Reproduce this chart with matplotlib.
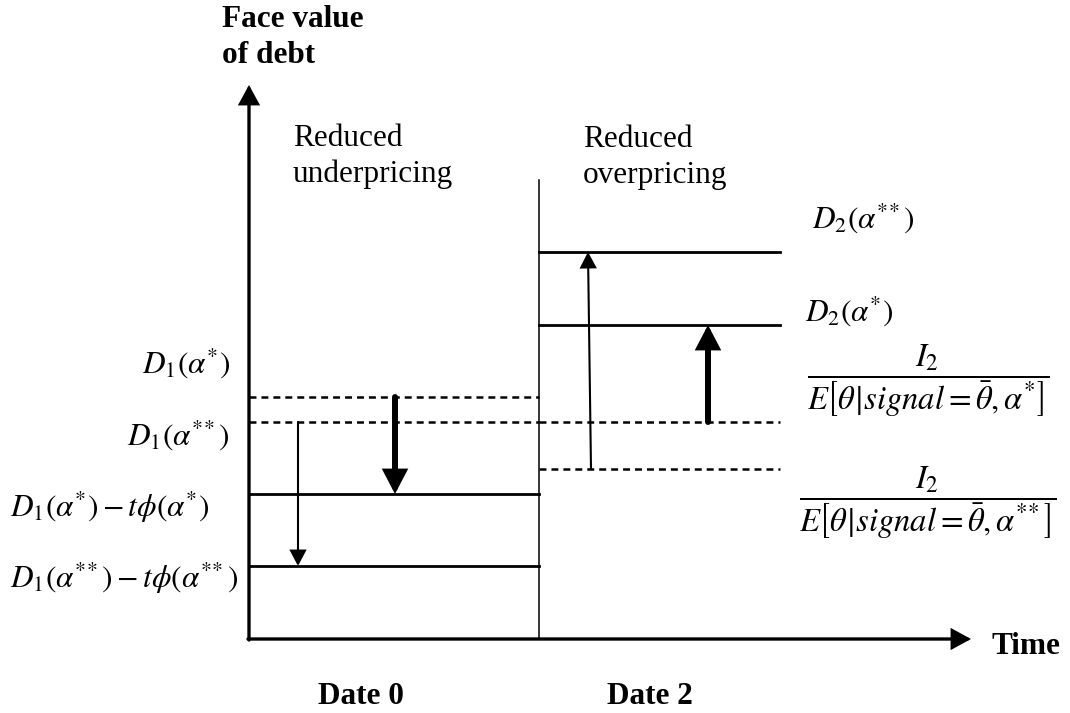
import matplotlib.pyplot as plt

# face value levels (y) and time spans (x) of the schematic
date0_span = [0, 290]
date2_span = [290, 531]
date0_solid = [145, 73]      # D1(a*) - t phi(a*), D1(a**) - t phi(a**)
date0_dashed = [242, 217]    # D1(a*), D1(a**)
date2_solid = [387, 314]     # D2(a**), D2(a*)
date2_dashed = [217, 170]    # I2/E[..a*], I2/E[..a**]
axis_x_end = 722
axis_y_end = 554
divider_top = 459

left_labels = [r'$D_1\left(\alpha^{*}\right)$',
               r'$D_1\left(\alpha^{*\!*}\right)$',
               r'$D_1\left(\alpha^{*}\right)-t\phi\left(\alpha^{*}\right)$',
               r'$D_1\left(\alpha^{*\!*}\right)-t\phi\left(\alpha^{*\!*}\right)$']
left_label_y = [276, 204, 132, 61]
right_labels = [r'$D_2\left(\alpha^{*\!*}\right)$',
                r'$D_2\left(\alpha^{*}\right)$']
right_label_y = [421, 328]
frac_labels = [r'$\dfrac{I_2}{E\left[\theta\!\mid\! signal=\bar{\theta},\alpha^{*}\right]}$',
               r'$\dfrac{I_2}{E\left[\theta\!\mid\! signal=\bar{\theta},\alpha^{*\!*}\right]}$']
frac_label_y = [258, 136]

plt.rcParams['font.family'] = 'serif'
plt.rcParams['font.serif'] = ['Liberation Serif', 'DejaVu Serif']
plt.rcParams['mathtext.fontset'] = 'stix'
plt.rcParams['lines.scale_dashes'] = False

fig = plt.figure(figsize=(10.7, 7.13), dpi=100)
ax = fig.add_axes([0, 0, 1, 1])
ax.set_xlim(-249, 821)
ax.set_ylim(-74, 639)
ax.axis('off')


def arrow(x0, y0, x1, y1, lw, hl, hw):
    ax.annotate('', xy=(x1, y1), xytext=(x0, y0),
                arrowprops=dict(arrowstyle='-|>,head_length=%s,head_width=%s' % (hl, hw),
                                lw=lw, color='black', shrinkA=0, shrinkB=0,
                                mutation_scale=1, joinstyle='miter'))


# axes
arrow(0, -1, 0, axis_y_end, 2.4, 11, 6)
arrow(-1, 0, axis_x_end, 0, 2.4, 11, 6)
ax.plot([date2_span[0], date2_span[0]], [0, divider_top], color='black', lw=1.1)

# levels
for y in date0_solid:
    ax.plot(date0_span, [y, y], color='black', lw=2)
for y in date0_dashed:
    ax.plot(date0_span, [y, y], color='black', lw=1.8, dashes=(5, 3.6))
for y in date2_solid:
    ax.plot(date2_span, [y, y], color='black', lw=2)
for y in date2_dashed:
    ax.plot(date2_span, [y, y], color='black', lw=1.8, dashes=(5, 3.6))

# shifts
arrow(146, date0_dashed[0], 146, date0_solid[0], 4.3, 11.5, 6)
arrow(49, date0_dashed[1], 49, date0_solid[1], 1.5, 9.5, 5)
arrow(342, date2_dashed[1], 339, date2_solid[0], 1.5, 9.5, 5)
arrow(459, date2_dashed[0], 459, date2_solid[1], 4.3, 11.5, 6)

# text
ax.text(-27, 576, 'Face value\nof debt', fontsize=22.5, fontweight='bold',
        ha='left', va='baseline', linespacing=1.3)
ax.text(44, 457, 'Reduced\nunderpricing', fontsize=22.5, ha='left', va='baseline',
        linespacing=1.3)
ax.text(334, 456, 'Reduced\noverpricing', fontsize=22.5, ha='left', va='baseline',
        linespacing=1.3)
ax.text(743, -15, 'Time', fontsize=22.5, fontweight='bold', ha='left', va='baseline')
ax.text(69, -65, 'Date 0', fontsize=22.5, fontweight='bold', ha='left', va='baseline')
ax.text(358, -65, 'Date 2', fontsize=22.5, fontweight='bold', ha='left', va='baseline')

for i, (s, y) in enumerate(zip(left_labels, left_label_y)):
    if i < 2:
        ax.text(-19, y, s, fontsize=22.5, ha='right', va='center')
    else:
        ax.text(-239, y, s, fontsize=22.5, ha='left', va='center')
for s, y, x in zip(right_labels, right_label_y, [563, 556]):
    ax.text(x, y, s, fontsize=22.5, ha='left', va='center')
for s, y in zip(frac_labels, frac_label_y):
    ax.text(679, y, s, fontsize=23.5, ha='center', va='center')

fig.savefig('out.png', dpi=100)
